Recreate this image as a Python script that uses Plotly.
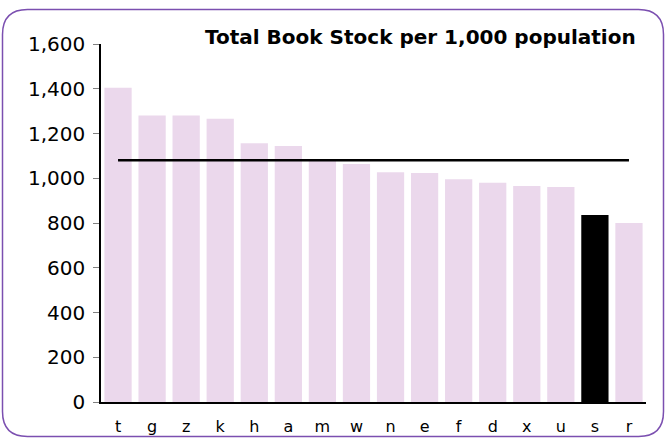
import plotly.graph_objects as go

categories = ["t", "g", "z", "k", "h", "a", "m", "w", "n", "e", "f", "d", "x", "u", "s", "r"]
values = [1405, 1280, 1280, 1266, 1156, 1144, 1077, 1064, 1027, 1024, 995, 980, 965, 961, 836, 800]
highlight = "s"
average = 1080
y_ticks = [0, 200, 400, 600, 800, 1000, 1200, 1400, 1600]

W, H = 667, 438
ML, MR, MT, MB = 101, 21, 44, 36
PW, PH = W - ML - MR, H - MT - MB

bar_colors = ["#000000" if c == highlight else "#EBD8EC" for c in categories]

fig = go.Figure()
fig.add_trace(go.Bar(x=categories, y=values, marker=dict(color=bar_colors, line=dict(width=0)),
                     hoverinfo="x+y"))
fig.add_trace(go.Scatter(x=categories, y=[average] * len(categories), mode="lines",
                         line=dict(color="#000000", width=2.5), hoverinfo="y"))

def px(x):
    return (x - ML) / PW

def py(y):
    return (H - MB - y) / PH

# rounded border
x0, x1, y0, y1, r = 2.5, 663.5, 9.5, 436.5, 25
path = (f"M {px(x0 + r)} {py(y0)} L {px(x1 - r)} {py(y0)} "
        f"Q {px(x1)} {py(y0)} {px(x1)} {py(y0 + r)} "
        f"L {px(x1)} {py(y1 - r)} Q {px(x1)} {py(y1)} {px(x1 - r)} {py(y1)} "
        f"L {px(x0 + r)} {py(y1)} Q {px(x0)} {py(y1)} {px(x0)} {py(y1 - r)} "
        f"L {px(x0)} {py(y0 + r)} Q {px(x0)} {py(y0)} {px(x0 + r)} {py(y0)} Z")
fig.add_shape(type="path", xref="paper", yref="paper", path=path,
              line=dict(color="#7B4FB0", width=1.5), layer="below")

fig.add_annotation(text="<b>Total Book Stock per 1,000 population</b>", xref="paper", yref="paper",
                   x=px(638), y=py(37), xanchor="right", yanchor="middle", showarrow=False,
                   font=dict(family="DejaVu Sans", size=20, color="#000000"))

fig.update_layout(
    width=W, height=H, margin=dict(l=ML, r=MR, t=MT, b=MB, autoexpand=False),
    paper_bgcolor="white", plot_bgcolor="white", showlegend=False,
    bargap=0.2,
    font=dict(family="DejaVu Sans", color="#000000"),
)
fig.update_xaxes(showgrid=False, showline=True, linecolor="#000000", linewidth=1.5,
                 ticks="", tickfont=dict(size=16), ticklabelstandoff=9, automargin=False)
fig.update_yaxes(range=[0, 1600], tickvals=y_ticks, tickformat=",d", showgrid=False,
                 showline=True, linecolor="#000000", linewidth=1.5, ticks="outside",
                 ticklen=6, tickcolor="#808080", tickfont=dict(size=20), zeroline=False,
                 automargin=False, ticklabelstandoff=4)

fig.write_html("out.html", config={"displayModeBar": False},
               post_script="document.body.style.margin='0px';document.body.style.overflow='hidden';")
